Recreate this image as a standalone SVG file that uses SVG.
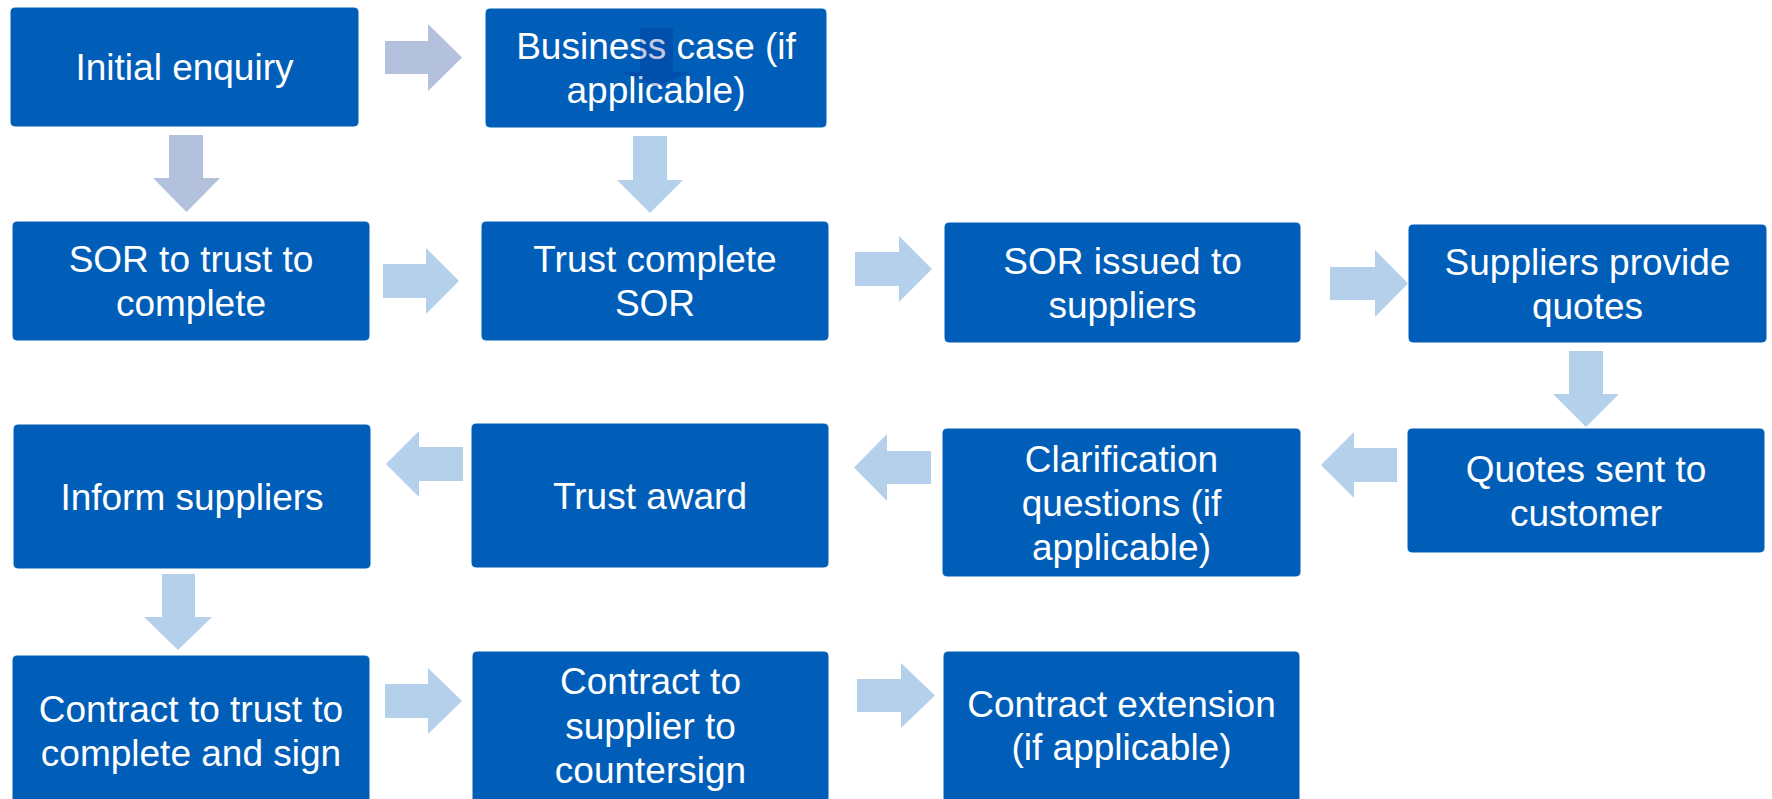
<svg xmlns="http://www.w3.org/2000/svg" width="1772" height="799" viewBox="0 0 1772 799">
<style>
.box{fill:#005EB8;stroke:#ffffff;stroke-width:1}
.t{font-family:"Liberation Sans",Arial,sans-serif;font-size:37px;fill:#ffffff;text-anchor:middle}
.ag{fill:#B3C1DC}
.al{fill:#B4D0EB}
.ghost{fill:#002387;opacity:0.25}
</style>
<rect width="1772" height="799" fill="#ffffff"/>
<g id="connectors">
<polygon class="ag" points="385,41 428,41 428,24 462,57.5 428,91 428,74 385,74"/>
<polygon class="ag" points="169,135 203,135 203,178 220,178 186.5,212 153,178 169,178"/>
<polygon class="al" points="633,136 667,136 667,180 683,180 650,213 617,180 633,180"/>
<polygon class="al" points="383,264 426,264 426,248 459,281 426,314 426,298 383,298"/>
<polygon class="al" points="855,252 899,252 899,236 932,269 899,302 899,286 855,286"/>
<polygon class="al" points="1330,267 1375,267 1375,250 1408,283.5 1375,317 1375,300 1330,300"/>
<polygon class="al" points="1569,351 1603,351 1603,394 1619,394 1586,427 1553,394 1569,394"/>
<polygon class="al" points="1397,448 1354,448 1354,432 1321,465 1354,498 1354,482 1397,482"/>
<polygon class="al" points="931,451 887,451 887,434 854,467.5 887,501 887,484 931,484"/>
<polygon class="al" points="463,447 419,447 419,431 386,464 419,497 419,481 463,481"/>
<polygon class="al" points="162,574 195,574 195,617 212,617 178,650 144,617 162,617"/>
<polygon class="al" points="385,684 428,684 428,668 462,701 428,734 428,718 385,718"/>
<polygon class="al" points="857,679 901,679 901,663 935,695.5 901,728 901,712 857,712"/>
</g>
<g id="n-initial-enquiry">
<rect class="box" x="10" y="7" width="349" height="120" rx="5"/>
<text class="t" x="184.5" y="80">Initial enquiry</text>
</g>
<g id="n-business-case">
<rect class="box" x="485" y="8" width="342" height="120" rx="5"/>
<text class="t" x="656" y="59">Business case (if</text>
<text class="t" x="656" y="103">applicable)</text>
</g>
<g id="n-sor-to-trust">
<rect class="box" x="12" y="221" width="358" height="120" rx="5"/>
<text class="t" x="191" y="272">SOR to trust to</text>
<text class="t" x="191" y="316">complete</text>
</g>
<g id="n-trust-complete-sor">
<rect class="box" x="481" y="221" width="348" height="120" rx="5"/>
<text class="t" x="655" y="272">Trust complete</text>
<text class="t" x="655" y="316">SOR</text>
</g>
<g id="n-sor-issued">
<rect class="box" x="944" y="222" width="357" height="121" rx="5"/>
<text class="t" x="1122.5" y="273.5">SOR issued to</text>
<text class="t" x="1122.5" y="317.5">suppliers</text>
</g>
<g id="n-suppliers-provide">
<rect class="box" x="1408" y="224" width="359" height="119" rx="5"/>
<text class="t" x="1587.5" y="274.5">Suppliers provide</text>
<text class="t" x="1587.5" y="318.5">quotes</text>
</g>
<g id="n-quotes-sent">
<rect class="box" x="1407" y="428" width="358" height="125" rx="5"/>
<text class="t" x="1586" y="482">Quotes sent to</text>
<text class="t" x="1586" y="526">customer</text>
</g>
<g id="n-clarification">
<rect class="box" x="942" y="428" width="359" height="149" rx="5"/>
<text class="t" x="1121.5" y="472">Clarification</text>
<text class="t" x="1121.5" y="516">questions (if</text>
<text class="t" x="1121.5" y="560">applicable)</text>
</g>
<g id="n-trust-award">
<rect class="box" x="471" y="423" width="358" height="145" rx="5"/>
<text class="t" x="650" y="508.5">Trust award</text>
</g>
<g id="n-inform-suppliers">
<rect class="box" x="13" y="424" width="358" height="145" rx="5"/>
<text class="t" x="192" y="510">Inform suppliers</text>
</g>
<g id="n-contract-trust">
<rect class="box" x="12" y="655" width="358" height="155" rx="5"/>
<text class="t" x="191" y="722">Contract to trust to</text>
<text class="t" x="191" y="766">complete and sign</text>
</g>
<g id="n-contract-supplier">
<rect class="box" x="472" y="651" width="357" height="159" rx="5"/>
<text class="t" x="650.5" y="694">Contract to</text>
<text class="t" x="650.5" y="738.5">supplier to</text>
<text class="t" x="650.5" y="783">countersign</text>
</g>
<g id="n-contract-extension">
<rect class="box" x="943" y="651" width="357" height="159" rx="5"/>
<text class="t" x="1121.5" y="716.5">Contract extension</text>
<text class="t" x="1121.5" y="760">(if applicable)</text>
</g>
<g id="overlay">
<polygon class="ghost" points="640,28 673,28 673,72 690,72 656,87 622,72 640,72"/>
</g>
</svg>
